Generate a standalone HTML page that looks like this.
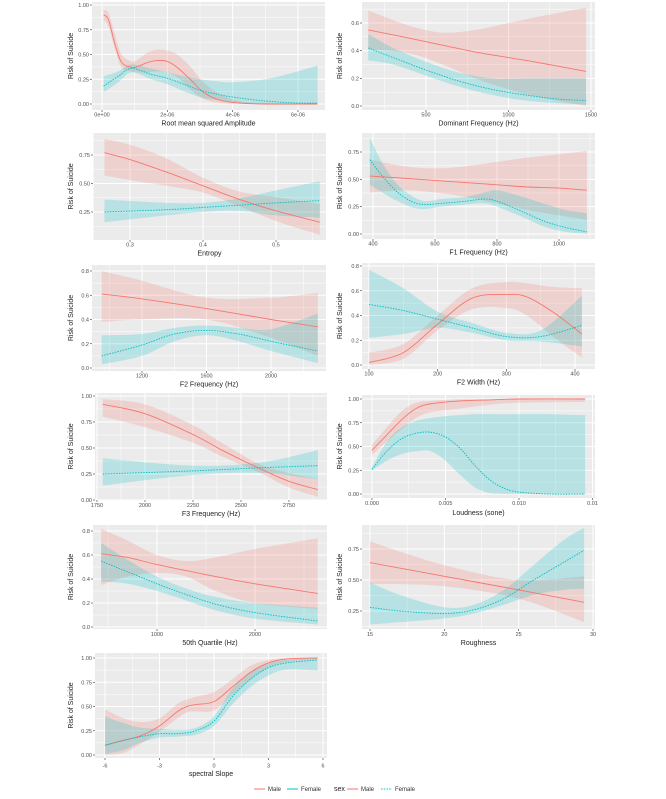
<!DOCTYPE html>
<html><head><meta charset="utf-8"><style>
html,body{margin:0;padding:0;background:#fff;}
svg{display:block;font-family:"Liberation Sans",sans-serif;}
</style></head><body>
<svg id="fig" width="666" height="799" viewBox="0 0 666 799" xmlns="http://www.w3.org/2000/svg"></svg>
<script>
// ---- data (x, mean, lo, hi) per panel ----
const rmsMaleX=[0.05,0.2,0.4,0.6,0.9,1.1,1.4,1.7,2.0,2.3,2.7,3.1,3.6,4.2,5,6.6];
const rmsMale=[0.9,0.85,0.6,0.42,0.37,0.38,0.42,0.44,0.43,0.37,0.25,0.12,0.04,0.01,0.0,0.0];
const rmsMaleLo=[0.85,0.78,0.55,0.37,0.33,0.32,0.32,0.33,0.32,0.27,0.15,0.05,0.01,0,0,0];
const rmsMaleHi=[0.95,0.92,0.7,0.5,0.43,0.45,0.52,0.55,0.54,0.5,0.38,0.22,0.1,0.03,0.01,0.01];
const rmsFemX=[0.05,0.5,0.9,1.5,2.0,2.5,3.0,3.5,4.0,5.0,6.0,6.6];
const rmsFem=[0.18,0.28,0.36,0.3,0.26,0.2,0.14,0.1,0.07,0.03,0.01,0.01];
const rmsFemLo=[0.12,0.22,0.32,0.25,0.2,0.13,0.07,0.04,0.02,0,0,0];
const rmsFemHi=[0.28,0.33,0.4,0.36,0.32,0.28,0.25,0.23,0.22,0.25,0.33,0.39];

const domMaleX=[150,400,600,800,1000,1200,1470];
const domMale=[0.55,0.49,0.44,0.39,0.35,0.31,0.25];
const domMaleLo=[0.41,0.38,0.3,0.2,0.12,0.06,0.0];
const domMaleHi=[0.69,0.58,0.53,0.55,0.6,0.65,0.71];
const domFemX=[150,300,500,700,900,1100,1300,1470];
const domFem=[0.42,0.35,0.26,0.18,0.12,0.08,0.05,0.04];
const domFemLo=[0.33,0.3,0.22,0.14,0.08,0.04,0.02,0.01];
const domFemHi=[0.52,0.42,0.32,0.24,0.2,0.2,0.2,0.2];

const entMaleX=[0.265,0.3,0.35,0.4,0.45,0.5,0.56];
const entMale=[0.77,0.71,0.6,0.48,0.36,0.26,0.16];
const entMaleLo=[0.57,0.53,0.48,0.42,0.3,0.17,0.05];
const entMaleHi=[0.89,0.84,0.72,0.55,0.43,0.38,0.32];
const entFemX=[0.265,0.35,0.4,0.45,0.5,0.56];
const entFem=[0.25,0.27,0.29,0.31,0.33,0.35];
const entFemLo=[0.16,0.22,0.25,0.26,0.22,0.2];
const entFemHi=[0.36,0.33,0.33,0.37,0.44,0.52];

const f1MaleX=[390,500,600,700,800,900,1000,1090];
const f1Male=[0.53,0.51,0.49,0.47,0.45,0.43,0.42,0.4];
const f1MaleLo=[0.38,0.4,0.38,0.34,0.28,0.22,0.17,0.13];
const f1MaleHi=[0.68,0.62,0.6,0.62,0.66,0.7,0.73,0.76];
const f1FemX=[390,430,480,530,570,620,700,760,800,870,950,1020,1090];
const f1Fem=[0.68,0.53,0.38,0.29,0.27,0.28,0.3,0.32,0.3,0.22,0.12,0.06,0.02];
const f1FemLo=[0.45,0.38,0.3,0.24,0.23,0.25,0.27,0.28,0.25,0.17,0.07,0.02,0.0];
const f1FemHi=[0.88,0.65,0.45,0.34,0.3,0.32,0.34,0.38,0.4,0.35,0.28,0.22,0.19];

const f2MaleX=[950,1200,1600,2000,2290];
const f2Male=[0.61,0.57,0.49,0.4,0.34];
const f2MaleLo=[0.38,0.4,0.4,0.25,0.1];
const f2MaleHi=[0.8,0.72,0.58,0.58,0.62];
const f2FemX=[950,1200,1400,1600,1800,2000,2290];
const f2Fem=[0.1,0.19,0.28,0.31,0.28,0.22,0.14];
const f2FemLo=[0.03,0.1,0.22,0.27,0.22,0.14,0.04];
const f2FemHi=[0.27,0.28,0.33,0.35,0.33,0.32,0.45];

const f2wMaleX=[100,150,200,250,300,330,370,410];
const f2wMale=[0.02,0.1,0.33,0.54,0.57,0.55,0.42,0.25];
const f2wMaleLo=[0.0,0.05,0.28,0.45,0.46,0.4,0.22,0.06];
const f2wMaleHi=[0.1,0.17,0.4,0.62,0.67,0.66,0.63,0.62];
const f2wFemX=[100,150,200,250,300,350,410];
const f2wFem=[0.49,0.44,0.37,0.3,0.23,0.23,0.32];
const f2wFemLo=[0.22,0.25,0.3,0.26,0.2,0.19,0.15];
const f2wFemHi=[0.77,0.62,0.43,0.34,0.26,0.28,0.56];

const f3MaleX=[1780,2000,2250,2400,2600,2750,2900];
const f3Male=[0.92,0.83,0.63,0.48,0.3,0.18,0.1];
const f3MaleLo=[0.8,0.7,0.55,0.42,0.26,0.12,0.03];
const f3MaleHi=[0.97,0.92,0.72,0.55,0.34,0.26,0.2];
const f3FemX=[1780,2250,2600,2900];
const f3Fem=[0.25,0.28,0.31,0.33];
const f3FemLo=[0.14,0.24,0.26,0.2];
const f3FemHi=[0.4,0.33,0.36,0.48];

const loudMaleX=[0,1,2,3,4,6,8,10,14.5];
const loudMale=[0.46,0.62,0.78,0.9,0.95,0.98,0.99,1,1];
const loudMaleLo=[0.41,0.55,0.68,0.8,0.86,0.9,0.94,0.96,0.97];
const loudMaleHi=[0.52,0.7,0.87,0.96,0.98,1,1,1,1];
const loudFemX=[0,1,2,3,4,5,6,7,8,9,10,12,14.5];
const loudFem=[0.26,0.45,0.58,0.64,0.65,0.6,0.48,0.3,0.15,0.06,0.02,0,0];
const loudFemLo=[0.25,0.35,0.42,0.45,0.45,0.35,0.2,0.07,0.01,0,0,0,0];
const loudFemHi=[0.28,0.55,0.7,0.77,0.8,0.82,0.83,0.84,0.84,0.84,0.84,0.84,0.83];

const q50MaleX=[430,700,1000,1300,1600,2000,2640];
const q50Male=[0.61,0.58,0.52,0.47,0.42,0.36,0.28];
const q50MaleLo=[0.35,0.42,0.45,0.42,0.3,0.2,0.15];
const q50MaleHi=[0.82,0.72,0.6,0.55,0.58,0.65,0.74];
const q50FemX=[430,700,1000,1300,1600,2000,2640];
const q50Fem=[0.55,0.46,0.36,0.27,0.19,0.12,0.05];
const q50FemLo=[0.38,0.36,0.3,0.22,0.14,0.07,0.02];
const q50FemHi=[0.7,0.56,0.42,0.32,0.25,0.2,0.16];

const rouMaleX=[15,20,25,29.4];
const rouMale=[0.64,0.53,0.42,0.32];
const rouMaleLo=[0.47,0.45,0.35,0.16];
const rouMaleHi=[0.81,0.62,0.5,0.53];
const rouFemX=[15,17,20,22,24,26,28,29.4];
const rouFem=[0.28,0.25,0.23,0.26,0.35,0.5,0.64,0.74];
const rouFemLo=[0.14,0.16,0.19,0.23,0.3,0.38,0.42,0.43];
const rouFemHi=[0.48,0.38,0.28,0.3,0.42,0.62,0.82,0.92];

const slopeMaleX=[-6,-5,-4,-3,-2,-1.5,-1,0,1,2,3,4,5.7];
const slopeMale=[0.1,0.15,0.2,0.3,0.45,0.5,0.52,0.55,0.7,0.85,0.95,0.99,1];
const slopeMaleLo=[0.0,0.02,0.12,0.24,0.38,0.44,0.45,0.46,0.62,0.78,0.9,0.96,0.99];
const slopeMaleHi=[0.47,0.38,0.34,0.38,0.53,0.57,0.6,0.65,0.78,0.92,0.98,1,1];
const slopeFemX=[-6,-5,-4,-3,-2,-1,0,1,2,3,4,5.7];
const slopeFem=[0.1,0.15,0.19,0.22,0.22,0.25,0.35,0.6,0.78,0.9,0.95,0.98];
const slopeFemLo=[0.01,0.05,0.13,0.18,0.19,0.21,0.3,0.52,0.7,0.82,0.88,0.87];
const slopeFemHi=[0.4,0.33,0.28,0.27,0.26,0.28,0.4,0.68,0.86,0.95,0.98,1];

// ---- panel layout ----
const panels=[
 {id:'rms',L:92,T:2,R:325,B:110,tk:6.5,ty:15.5,xm:[0,102,6,298],ym:[0,104,1,5],xt:[0,2,4,6],xl:['0e+00','2e-06','4e-06','6e-06'],yt:[0,.25,.5,.75,1],yl:['0.00','0.25','0.50','0.75','1.00'],title:'Root mean squared Amplitude',
  m:[rmsMaleX,rmsMale,rmsMaleLo,rmsMaleHi],f:[rmsFemX,rmsFem,rmsFemLo,rmsFemHi]},
 {id:'dominant',L:362,T:2,R:595,B:110,tk:6.5,ty:15.5,xm:[500,426,1000,508.5],ym:[0,106,0.6,23],xt:[500,1000,1500],xl:['500','1000','1500'],yt:[0,.2,.4,.6],yl:['0.0','0.2','0.4','0.6'],title:'Dominant Frequency (Hz)',
  m:[domMaleX,domMale,domMaleLo,domMaleHi],f:[domFemX,domFem,domFemLo,domFemHi]},
 {id:'entropy',L:93,T:133,R:326,B:240,tk:6.5,ty:15.5,xm:[0.3,130,0.5,276],ym:[0.25,212,0.75,155],xt:[.3,.4,.5],xl:['0.3','0.4','0.5'],yt:[.25,.5,.75],yl:['0.25','0.50','0.75'],title:'Entropy',
  m:[entMaleX,entMale,entMaleLo,entMaleHi],f:[entFemX,entFem,entFemLo,entFemHi]},
 {id:'f1',L:362,T:133,R:595,B:239,tk:6.5,ty:15.5,xm:[400,373,1000,559],ym:[0,234,0.75,152],xt:[400,600,800,1000],xl:['400','600','800','1000'],yt:[0,.25,.5,.75],yl:['0.00','0.25','0.50','0.75'],title:'F1 Frequency (Hz)',
  m:[f1MaleX,f1Male,f1MaleLo,f1MaleHi],f:[f1FemX,f1Fem,f1FemLo,f1FemHi]},
 {id:'f2',L:92,T:265,R:326,B:371,tk:6.5,ty:15.5,xm:[1200,142,2000,271],ym:[0,368,0.8,271],xt:[1200,1600,2000],xl:['1200','1600','2000'],yt:[0,.2,.4,.6,.8],yl:['0.0','0.2','0.4','0.6','0.8'],title:'F2 Frequency (Hz)',
  m:[f2MaleX,f2Male,f2MaleLo,f2MaleHi],f:[f2FemX,f2Fem,f2FemLo,f2FemHi]},
 {id:'f2width',L:362,T:263,R:595,B:369,tk:6.5,ty:15.5,xm:[100,369,400,575],ym:[0,365,0.8,266],xt:[100,200,300,400],xl:['100','200','300','400'],yt:[0,.2,.4,.6,.8],yl:['0.0','0.2','0.4','0.6','0.8'],title:'F2 Width (Hz)',
  m:[f2wMaleX,f2wMale,f2wMaleLo,f2wMaleHi],f:[f2wFemX,f2wFem,f2wFemLo,f2wFemHi]},
 {id:'f3',L:95,T:393,R:327,B:500,tk:7,ty:16,xm:[1750,97,2750,289],ym:[0,500,1,396],xt:[1750,2000,2250,2500,2750],xl:['1750','2000','2250','2500','2750'],yt:[0,.25,.5,.75,1],yl:['0.00','0.25','0.50','0.75','1.00'],title:'F3 Frequency (Hz)',
  m:[f3MaleX,f3Male,f3MaleLo,f3MaleHi],f:[f3FemX,f3Fem,f3FemLo,f3FemHi]},
 {id:'loudness',L:362,T:395,R:595,B:498,tk:7,ty:17,xm:[0,372,10,519],ym:[0,494,1,399],xt:[0,5,10,15],xl:['0.000','0.005','0.010','0.01'],yt:[0,.25,.5,.75,1],yl:['0.00','0.25','0.50','0.75','1.00'],title:'Loudness (sone)',
  m:[loudMaleX,loudMale,loudMaleLo,loudMaleHi],f:[loudFemX,loudFem,loudFemLo,loudFemHi]},
 {id:'quartile50',L:93,T:525,R:327,B:629,tk:7,ty:16,xm:[1000,157,2000,255],ym:[0,627,0.8,531],xt:[1000,2000],xl:['1000','2000'],yt:[0,.2,.4,.6,.8],yl:['0.0','0.2','0.4','0.6','0.8'],title:'50th Quartile (Hz)',
  m:[q50MaleX,q50Male,q50MaleLo,q50MaleHi],f:[q50FemX,q50Fem,q50FemLo,q50FemHi]},
 {id:'roughness',L:362,T:525,R:595,B:629,tk:7,ty:16,xm:[15,370,30,593],ym:[0.25,611,0.75,549],xt:[15,20,25,30],xl:['15','20','25','30'],yt:[.25,.5,.75],yl:['0.25','0.50','0.75'],title:'Roughness',
  m:[rouMaleX,rouMale,rouMaleLo,rouMaleHi],f:[rouFemX,rouFem,rouFemLo,rouFemHi]},
 {id:'spectral-slope',L:95,T:653,R:327,B:758,tk:9.5,ty:18,xm:[-6,105,6,323],ym:[0,755,1,658],xt:[-6,-3,0,3,6],xl:['-6','-3','0','3','6'],yt:[0,.25,.5,.75,1],yl:['0.00','0.25','0.50','0.75','1.00'],title:'spectral Slope',
  m:[slopeMaleX,slopeMale,slopeMaleLo,slopeMaleHi],f:[slopeFemX,slopeFem,slopeFemLo,slopeFemHi]}
];
const MALE='#F8766D',FEM='#00BFC4';
const NS='http://www.w3.org/2000/svg';
const svg=document.getElementById('fig');
function mk(tag,attrs,parent){const e=document.createElementNS(NS,tag);for(const k in attrs)e.setAttribute(k,attrs[k]);(parent||svg).appendChild(e);return e;}
function lin(m){return v=>m[1]+(v-m[0])*(m[3]-m[1])/(m[2]-m[0]);}
function curve(pts){
 let d='';
 for(let i=0;i<pts.length-1;i++){
  const p0=pts[Math.max(0,i-1)],p1=pts[i],p2=pts[i+1],p3=pts[Math.min(pts.length-1,i+2)];
  const c1=[p1[0]+(p2[0]-p0[0])/6,p1[1]+(p2[1]-p0[1])/6];
  const c2=[p2[0]-(p3[0]-p1[0])/6,p2[1]-(p3[1]-p1[1])/6];
  d+=` C${c1[0].toFixed(2)},${c1[1].toFixed(2)} ${c2[0].toFixed(2)},${c2[1].toFixed(2)} ${p2[0].toFixed(2)},${p2[1].toFixed(2)}`;
 }
 return d;
}
function path(pts){return 'M'+pts[0][0].toFixed(2)+','+pts[0][1].toFixed(2)+curve(pts);}

panels.forEach(p=>{
 const g=mk('g',{});
 
 
 const X=lin(p.xm),Y=lin(p.ym);
 const clipId='clip-'+p.id;
 const cp=mk('clipPath',{id:clipId},g);mk('rect',{x:p.L,y:p.T,width:p.R-p.L,height:p.B-p.T},cp);
 const bg=mk('rect',{x:p.L,y:p.T,width:p.R-p.L,height:p.B-p.T,fill:'#EBEBEB'},g);
 
 
 const grid=mk('g',{'clip-path':`url(#${clipId})`},g);
 const dx=p.xt[1]-p.xt[0],dy=p.yt[1]-p.yt[0];
 for(let k=-2;k<p.xt.length+1;k++){const v=p.xt[0]+(k+0.5)*dx;mk('line',{x1:X(v),x2:X(v),y1:p.T,y2:p.B,stroke:'#fff','stroke-width':0.5},grid);}
 for(let k=-2;k<p.yt.length+1;k++){const v=p.yt[0]+(k+0.5)*dy;mk('line',{y1:Y(v),y2:Y(v),x1:p.L,x2:p.R,stroke:'#fff','stroke-width':0.5},grid);}
 p.xt.forEach(v=>mk('line',{x1:X(v),x2:X(v),y1:p.T,y2:p.B,stroke:'#fff','stroke-width':1},grid));
 p.yt.forEach(v=>mk('line',{y1:Y(v),y2:Y(v),x1:p.L,x2:p.R,stroke:'#fff','stroke-width':1},grid));
 [[p.m,MALE,'male'],[p.f,FEM,'female']].forEach(([s,c,n])=>{
  const hi=s[0].map((x,i)=>[X(x),Y(s[3][i])]);
  const lo=s[0].map((x,i)=>[X(x),Y(s[2][i])]).reverse();
  const d=path(hi)+' L'+lo[0][0].toFixed(2)+','+lo[0][1].toFixed(2)+curve(lo)+' Z';
  const r=mk('path',{d:d,fill:c,'fill-opacity':0.22,stroke:'none'},grid);
  
  
 });
 [[p.m,MALE,'male',null],[p.f,FEM,'female','1.5,1.2']].forEach(([s,c,n,da])=>{
  const pts=s[0].map((x,i)=>[X(x),Y(s[1][i])]);
  const a={d:path(pts),fill:'none',stroke:c,'stroke-width':0.9};
  if(da)a['stroke-dasharray']=da;
  const l=mk('path',a,grid);
  
  
 });
 p.xt.forEach((v,i)=>{const x=X(v);if(x<p.L-2||x>p.R+8)return;
  mk('line',{x1:x,x2:x,y1:p.B,y2:p.B+2,stroke:'#333','stroke-width':0.6},g);
  const t=mk('text',{x:x,y:p.B+p.tk,'font-size':5.5,fill:'#4D4D4D','text-anchor':'middle'},g);t.textContent=p.xl[i];
  
  
 });
 p.yt.forEach((v,i)=>{const y=Y(v);
  mk('line',{x1:p.L-2,x2:p.L,y1:y,y2:y,stroke:'#333','stroke-width':0.6},g);
  const t=mk('text',{x:p.L-3,y:y+2,'font-size':5.5,fill:'#4D4D4D','text-anchor':'end'},g);t.textContent=p.yl[i];
  
  
 });
 const xt=mk('text',{x:(p.L+p.R)/2,y:p.B+p.ty,'font-size':7,fill:'#222','text-anchor':'middle'},g);xt.textContent=p.title;
 
 
 const yx=p.L<200?73:342,yy=(p.T+p.B)/2;
 const yt=mk('text',{x:yx,y:yy,'font-size':7,fill:'#222','text-anchor':'middle',transform:`rotate(-90 ${yx} ${yy})`},g);yt.textContent='Risk of Suicide';
 
 
});
const lg=mk('g',{});


function entry(x,c,label,dash){
 const e=mk('g',{},lg);
 
 
 const a={x1:x,x2:x+11,y1:789,y2:789,stroke:c,'stroke-width':1};if(dash)a['stroke-dasharray']='1.5,1.2';
 mk('line',a,e);
 const t=mk('text',{x:x+14,y:791,'font-size':6,fill:'#333'},e);t.textContent=label;
}
entry(254,MALE,'Male');entry(287,FEM,'Female');
const st=mk('text',{x:334,y:791,'font-size':7,fill:'#222'},lg);st.textContent='sex';


entry(347,MALE,'Male');entry(381,FEM,'Female',true);
</script>
</body></html>
